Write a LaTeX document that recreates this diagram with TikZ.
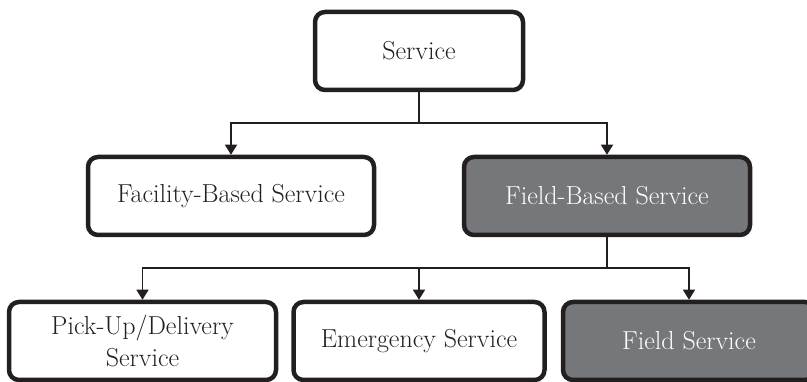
\documentclass[tikz,border=0pt]{standalone}
\usetikzlibrary{arrows.meta}
\definecolor{edge}{RGB}{35,31,32}
\definecolor{shade}{RGB}{118,119,123}
\begin{document}
\begin{tikzpicture}[x=1pt,y=-1pt,
  box/.style={draw=edge,line width=4.5pt,rounded corners=10pt,inner sep=0pt,
    minimum height=78pt,align=center,text=edge,
    font=\fontsize{26}{32}\selectfont},
  plain/.style={box,fill=white},
  dark/.style={box,fill=shade,text=white},
  link/.style={draw=edge,line width=1.5pt},
  arr/.style={link,-{Triangle[width=12pt,length=10pt]}}]
  \clip (0,0) rectangle (807,382);

  % top level
  \node[plain,minimum width=208pt] (svc) at (419,51) {Service};

  % second level
  \node[plain,minimum width=286pt] (fac) at (231,196) {Facility-Based Service};
  \node[dark,minimum width=286pt]  (fld) at (607,196) {Field-Based Service};

  % third level
  \node[plain,minimum width=267pt] (pud) at (142.5,341) {Pick-Up/Delivery\\Service};
  \node[plain,minimum width=251pt] (emg) at (419,341) {Emergency Service};
  \node[dark,minimum width=252pt]  (fsv) at (689,341) {Field Service};

  % branching connectors
  \coordinate (j1) at (419,123);
  \coordinate (j2) at (607,268);
  \draw[link] (svc.south) -- (j1);
  \draw[arr] (j1) -| (fac.north);
  \draw[arr] (j1) -| (fld.north);
  \draw[link] (fld.south) -- (j2);
  \draw[arr] (j2) -| (pud.north);
  \draw[arr] (j2) -| (emg.north);
  \draw[arr] (j2) -| (fsv.north);
\end{tikzpicture}
\end{document}
